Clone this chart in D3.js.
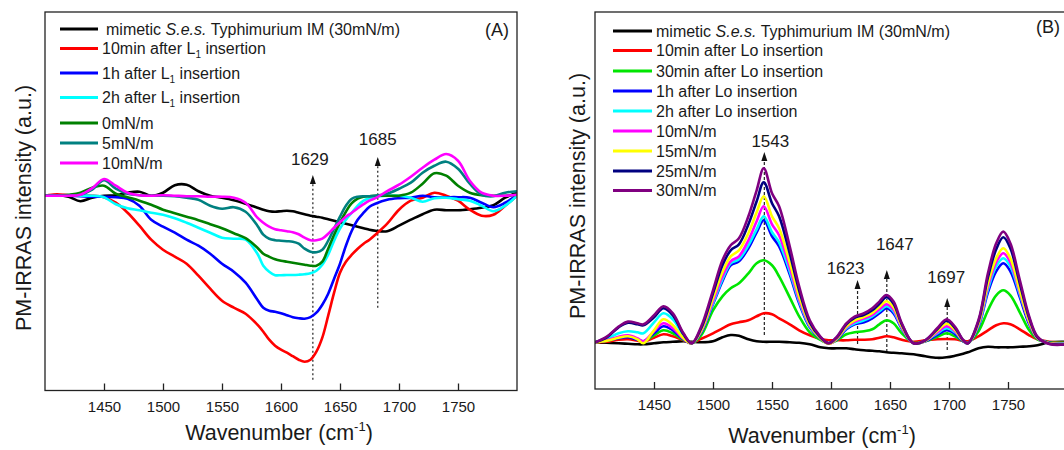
<!DOCTYPE html>
<html><head><meta charset="utf-8">
<script src="https://cdn.jsdelivr.net/npm/d3@7"></script>
<style>
body{margin:0;background:#fff}
text{font-family:"Liberation Sans",Arial,sans-serif;fill:#1a1a1a}
</style>
</head><body>
<svg id="c" width="1064" height="450"></svg>
<script>
// ---------- DATA: panel A ----------
const wnA = [1400,1410,1420,1430,1440,1450,1460,1470,1480,1490,1500,1510,1520,1530,1540,1550,1560,1570,1580,
  1585,1590,1595,1600,1605,1610,1615,1620,1625,1630,1635,1640,1645,1650,1655,1660,1665,1670,1675,1680,
  1690,1700,1710,1720,1730,1740,1750,1760,1770,1780,1790,1800];
const a_mimetic = [0,0.05,-0.1,-0.55,-0.2,0,0.05,0.3,0.4,0,0.3,1.05,1.1,0.45,0,-0.2,-0.45,-0.8,-1.2,
  -1.4,-1.55,-1.6,-1.55,-1.5,-1.55,-1.7,-1.85,-2.0,-2.1,-2.2,-2.35,-2.5,-2.65,-2.8,-2.95,-3.1,-3.25,-3.4,-3.5,
  -3.55,-3.0,-2.4,-1.85,-1.4,-1.45,-1.45,-1.35,-1.2,-0.95,-0.2,0.3];
const a_10min = [0,0.15,0.05,0,0,-0.15,-0.7,-1.7,-3.0,-4.4,-5.4,-6.1,-6.8,-8.0,-9.3,-10.5,-11.2,-11.8,-12.9,
  -13.6,-14.4,-15.0,-15.4,-15.7,-16.05,-16.4,-16.6,-16.4,-15.6,-14.2,-12.0,-9.7,-7.7,-6.6,-5.9,-5.3,-4.8,-4.4,-3.9,
  -2.8,-1.4,-0.5,-0.2,0.3,0,-0.5,-1.4,-2.0,-1.9,-1.0,0];
const a_1h = [0,0.05,0,-0.05,-0.1,-0.1,-0.15,-0.3,-1.0,-2.4,-3.1,-3.7,-4.4,-5.0,-5.8,-6.8,-7.6,-8.7,-10.4,
  -11.2,-11.5,-11.6,-11.75,-11.95,-12.15,-12.25,-12.3,-12.15,-11.7,-10.9,-9.8,-8.3,-6.8,-5.0,-3.5,-2.4,-1.7,-1.1,-0.8,
  -0.4,-0.25,-0.2,0,-0.15,-0.15,-0.15,-0.2,-0.7,-1.15,-0.7,0.1];
const a_2h = [0,0,0,0,0,-0.15,-0.85,-1.25,-1.45,-1.7,-1.9,-2.25,-2.7,-3.2,-3.7,-4.2,-4.3,-4.4,-5.8,
  -7.0,-7.6,-7.95,-7.95,-7.93,-7.93,-7.9,-7.85,-7.75,-7.5,-6.9,-5.9,-4.5,-3.3,-2.4,-1.7,-1.0,-0.5,-0.25,-0.1,
  0,0,-0.2,-0.6,-0.25,-0.2,-0.35,-0.5,-1.0,-1.55,-1.0,0];
const a_0mN = [0,0,0.1,0.3,0.8,1.0,0.2,-0.15,-0.5,-0.9,-1.4,-1.75,-2.1,-2.45,-2.85,-3.25,-3.75,-4.25,-5.2,
  -5.8,-6.1,-6.35,-6.5,-6.6,-6.7,-6.8,-6.9,-7.0,-7.0,-6.6,-5.3,-3.9,-2.7,-1.6,-0.75,-0.3,-0.1,-0.05,0,
  0,0,0.3,1.2,2.25,2.0,1.0,0.3,0.05,0,0,0.1];
const a_5mN = [0,0,0,0.1,0.6,1.55,0.7,0.2,0.05,0,0,-0.05,-0.2,-0.4,-1.0,-1.3,-1.15,-1.6,-3.0,
  -3.9,-4.3,-4.45,-4.5,-4.55,-4.6,-4.8,-5.3,-5.6,-5.65,-5.4,-4.5,-3.3,-2.1,-1.0,-0.3,-0.1,-0.05,-0.05,0,
  0.2,0.7,1.3,2.3,3.0,3.4,2.7,1.2,0.1,-0.05,0.3,0.45];
const a_10mN = [0,0,0,0.1,0.75,1.67,1.0,0.3,0.05,0,0.05,0,-0.05,-0.05,-0.1,-0.1,-0.2,-0.7,-2.2,
  -2.7,-3.1,-3.35,-3.45,-3.55,-3.65,-3.85,-4.2,-4.45,-4.45,-4.3,-3.8,-3.2,-2.65,-2.1,-1.7,-1.25,-0.85,-0.5,-0.25,
  0.45,1.1,1.9,2.8,3.6,4.17,3.5,1.5,0.3,0,0,0.1];

// ---------- DATA: panel B ----------
const wnB = [1400,1410,1420,1428,1436,1441,1450,1458,1466,1475,1482,1490,1500,1508,1515,1522,1530,1537,1543,1550,
  1556,1565,1573,1582,1591,1598,1605,1613,1620,1628,1635,1641,1647,1653,1660,1670,1680,1690,1698,1705,
  1712,1716,1725,1733,1740,1746,1752,1760,1768,1775,1785,1800];
const b_mimetic = [0,-0.05,-0.1,-0.15,-0.2,-0.2,-0.1,0,0.05,0.1,0.05,0,0.1,0.5,0.73,0.65,0.3,0.1,0.05,0.05,
  0.05,0,-0.05,-0.2,-0.5,-0.6,-0.6,-0.6,-0.7,-0.8,-0.85,-0.9,-1.0,-1.05,-1.1,-1.2,-1.4,-1.55,-1.5,-1.35,
  -1.15,-1.0,-0.6,-0.45,-0.5,-0.5,-0.5,-0.45,-0.4,-0.3,0,0.05];
const b_10min = [0,0.05,0.25,0.3,0.15,0.05,0.45,0.8,0.6,0.2,-0.05,0.35,0.9,1.4,1.8,2.0,2.2,2.6,2.9,2.8,
  2.4,1.8,1.2,0.7,0.35,0.2,0.2,0.2,0.25,0.25,0.3,0.45,0.6,0.5,0.25,0.05,0.2,0.3,0.33,0.3,
  0.15,0.1,0.6,1.2,1.7,1.9,1.8,1.3,0.7,0.3,0.05,-0.05];
const b_30min = [0,0.15,0.45,0.6,0.3,0.1,0.7,1.2,0.9,0.25,-0.1,0.7,3.2,4.6,5.4,5.9,6.9,7.9,8.2,7.7,
  6.6,4.5,2.6,1.0,0.25,-0.1,0.2,0.8,1.0,1.1,1.3,1.8,2.2,1.9,0.9,-0.05,0.1,0.55,0.9,0.6,
  0.1,-0.05,1.1,3.2,4.7,5.2,4.7,3.0,1.2,0.3,0,-0.05];
const b_1h = [0,0.15,0.4,0.5,0.25,0.1,0.9,1.6,1.2,0.3,-0.1,1.0,3.8,6.1,7.7,8.1,9.4,11.0,12.2,10.6,
  9.6,6.8,3.9,1.5,0.35,-0.1,0.3,1.3,1.8,2.0,2.4,2.9,3.4,2.9,1.35,-0.1,0.1,0.75,1.2,0.85,
  0.1,-0.1,1.6,5.0,7.1,7.9,7.1,4.5,1.8,0.4,-0.05,-0.1];
const b_2h = [0,0.35,0.9,1.1,1.0,0.9,2.0,2.9,2.3,0.7,-0.1,1.1,3.9,6.3,7.9,8.3,9.7,11.3,12.6,11.0,
  10.0,7.1,4.1,1.6,0.4,-0.1,0.35,1.4,1.9,2.2,2.6,3.1,3.6,3.1,1.45,-0.1,0.15,0.9,1.4,1.0,
  0.15,-0.1,1.7,5.3,7.6,8.4,7.6,4.8,2.0,0.45,-0.1,-0.1];
const b_10mN = [0,0.2,0.55,0.7,0.4,0.1,1.1,1.9,1.4,0.35,-0.1,1.1,4.1,6.6,8.1,8.6,10.2,12.1,13.6,11.8,
  10.7,7.5,4.3,1.7,0.4,-0.15,0.35,1.5,2.05,2.4,2.75,3.3,3.8,3.25,1.5,-0.1,0.15,1.0,1.6,1.1,
  0.15,-0.1,1.8,5.6,8.0,8.9,8.0,5.0,2.0,0.4,-0.1,-0.15];
const b_15mN = [0,0.15,0.45,0.6,0.3,-0.1,1.2,2.3,1.7,0.4,-0.1,1.2,4.4,7.0,8.6,9.2,10.9,13.0,14.6,12.6,
  11.4,8.0,4.6,1.8,0.4,-0.15,0.4,1.6,2.2,2.55,2.95,3.55,4.1,3.5,1.6,-0.1,0.15,1.15,1.85,1.25,
  0.15,-0.1,1.9,5.9,8.4,9.4,8.4,5.2,2.1,0.45,-0.1,-0.15];
const b_25mN = [0,0.5,1.5,1.95,1.8,1.7,2.5,3.4,2.7,0.8,-0.1,1.4,4.9,7.7,9.2,9.8,11.8,14.1,16.0,13.9,
  12.6,8.9,5.2,2.0,0.5,-0.1,0.5,1.8,2.45,2.75,3.2,3.85,4.5,3.85,1.8,-0.1,0.2,1.3,2.15,1.45,
  0.2,-0.1,2.1,6.5,9.3,10.5,9.4,5.9,2.4,0.5,-0.15,-0.2];
const b_30mN = [0,0.57,1.57,2.07,1.9,1.8,2.7,3.6,2.9,0.9,-0.1,1.57,5.2,8.2,9.7,10.4,12.6,15.2,17.4,14.9,
  13.6,9.6,5.6,2.2,0.57,-0.1,0.57,1.9,2.57,2.9,3.4,4.07,4.73,4.07,1.9,-0.1,0.23,1.4,2.3,1.57,
  0.23,-0.1,2.23,6.9,9.9,11.07,9.9,6.23,2.57,0.57,-0.17,-0.2];

const xTicks = [1450,1500,1550,1600,1650,1700,1750];

const labelsA = ["mimetic S.e.s. Typhimurium IM (30mN/m)","10min after L1 insertion","1h after L1 insertion",
  "2h after L1 insertion","0mN/m","5mN/m","10mN/m"];
const colorsA = ["#000000","#ff0000","#0000ff","#00ffff","#008000","#008080","#ff00ff"];
const valuesA = [a_mimetic,a_10min,a_1h,a_2h,a_0mN,a_5mN,a_10mN];

const labelsB = ["mimetic S.e.s. Typhimurium IM (30mN/m)","10min after Lo insertion","30min after Lo insertion",
  "1h after Lo insertion","2h after Lo insertion","10mN/m","15mN/m","25mN/m","30mN/m"];
const colorsB = ["#000000","#ff0000","#00e600","#0000ff","#00ffff","#ff00ff","#ffff00","#000080","#800080"];
const valuesB = [b_mimetic,b_10min,b_30min,b_1h,b_2h,b_10mN,b_15mN,b_25mN,b_30mN];

// annotations: position (cm-1), label, bottom/tip/label heights in a.u.
const annoA_pos = [1627,1682], annoA_text = ["1629","1685"];
const annoA_bottom = [-18.4,-11.2], annoA_tip = [2.07,3.87], annoA_lab = [3.07,5.07];
const annoB_pos = [1543.5,1622.5,1647.3,1698.5], annoB_text = ["1543","1623","1647","1697"];
const annoB_bottom = [0.73,-0.17,-0.97,-0.77], annoB_tip = [19.03,6.23,7.23,4.43], annoB_lab = [19.5,6.83,9.23,5.93];

// ---------- DRAW ----------
const svg = d3.select("#c");
const FONT = '"Liberation Sans", Arial, sans-serif';

function panel(cfg){
  const x = d3.scaleLinear().domain([1400,1800]).range([cfg.left,cfg.right]);
  const y = d3.scaleLinear().domain(cfg.yDomain).range([cfg.bottom,cfg.top]);
  const g = svg.append("g");
  svg.append("clipPath").attr("id","clip"+cfg.id).append("rect")
    .attr("x",cfg.left).attr("y",cfg.top).attr("width",cfg.right-cfg.left).attr("height",cfg.bottom-cfg.top);

  const an = g.append("g");
  cfg.anno.pos.forEach((p,i)=>{
    const xp = x(p);
    an.append("line").attr("x1",xp).attr("x2",xp)
      .attr("y1",y(cfg.anno.bottom[i])).attr("y2",y(cfg.anno.tip[i])+6)
      .attr("stroke","#222").attr("stroke-width",1.2).attr("stroke-dasharray",cfg.dash);
    const ty = y(cfg.anno.tip[i]);
    an.append("path").attr("d",`M${xp},${ty} L${xp-3},${ty+9} L${xp+3},${ty+9} Z`).attr("fill","#111");
    an.append("text").attr("x",xp+cfg.anno.dx[i]).attr("y",y(cfg.anno.lab[i]))
      .attr("text-anchor","middle").attr("font-size",17).text(cfg.anno.text[i]);
  });

  const line = d3.line().x((d,i)=>x(cfg.wn[i])).y(d=>y(d)).curve(d3.curveCatmullRom.alpha(0.5));
  g.append("g").attr("clip-path",`url(#clip${cfg.id})`)
    .selectAll("path").data(cfg.values).join("path")
    .attr("d",v=>line(v)).attr("fill","none")
    .attr("stroke",(v,i)=>cfg.colors[i]).attr("stroke-width",2.6)
    .attr("stroke-linejoin","round").attr("stroke-linecap","round");

  g.append("rect").attr("x",cfg.left).attr("y",cfg.top)
    .attr("width",cfg.right-cfg.left).attr("height",cfg.bottom-cfg.top)
    .attr("fill","none").attr("stroke","#222").attr("stroke-width",1.3);

  const ax = g.append("g").attr("transform",`translate(0,${cfg.bottom})`)
    .call(d3.axisBottom(x).tickValues(xTicks).tickSizeInner(-7).tickSizeOuter(0).tickPadding(cfg.tickPad).tickFormat(d3.format("d")));
  ax.select(".domain").remove();
  ax.selectAll(".tick line").attr("stroke","#222").attr("stroke-width",1.3);
  ax.selectAll(".tick text").attr("font-size",15).attr("font-family",FONT).attr("fill","#1a1a1a");

  const xt = g.append("text").attr("x",cfg.xTitleX).attr("y",cfg.xTitleY).attr("text-anchor","middle").attr("font-size",21.5);
  xt.append("tspan").text("Wavenumber (cm");
  xt.append("tspan").attr("font-size",13).attr("dy",-9).text("-1");
  xt.append("tspan").attr("dy",9).text(")");
  g.append("text").attr("transform",`translate(${cfg.yTitleX},${cfg.yTitleY}) rotate(-90)`)
    .attr("text-anchor","middle").attr("font-size",21.5).text("PM-IRRAS intensity (a.u.)");

  g.append("text").attr("x",cfg.letterX).attr("y",cfg.letterY).attr("text-anchor","middle")
    .attr("font-size",18).text(cfg.letter);

  const lg = g.append("g");
  cfg.labels.forEach((lab,i)=>{
    const yy = cfg.legendY[i];
    lg.append("line").attr("x1",cfg.legX1).attr("x2",cfg.legX2).attr("y1",yy).attr("y2",yy)
      .attr("stroke",cfg.colors[i]).attr("stroke-width",3);
    const t = lg.append("text").attr("x",cfg.legTX + (i===0?cfg.firstPad:0)).attr("y",yy).attr("dy","0.36em").attr("font-size",16);
    if(lab.startsWith("mimetic")){
      t.append("tspan").text("mimetic ");
      t.append("tspan").attr("font-style","italic").text("S.e.s.");
      t.append("tspan").text(" Typhimurium IM (30mN/m)");
    } else if(lab.includes("L1")){
      const parts = lab.split("L1");
      t.append("tspan").text(parts[0]+"L");
      t.append("tspan").attr("font-size",10).attr("dy",4).text("1");
      t.append("tspan").attr("dy",-4).text(parts[1]);
    } else t.text(lab);
  });
}

panel({id:"A", left:45, right:517, top:12, bottom:390.5, yDomain:[-19.48,18.37],
  wn:wnA, values:valuesA, colors:colorsA, labels:labelsA,
  legendY:[29,48.5,73,97.5,123,143,163], legX1:60, legX2:98, legTX:102, firstPad:4,
  tickPad:11, xTitleX:279, xTitleY:440, yTitleX:31, yTitleY:208,
  letter:"(A)", letterX:497, letterY:35.5, dash:"2,2.5",
  anno:{pos:annoA_pos,text:annoA_text,bottom:annoA_bottom,tip:annoA_tip,lab:annoA_lab,dx:[-3,0]}});

panel({id:"B", left:595, right:1067, top:12, bottom:389, yDomain:[-4.67,33.03],
  wn:wnB, values:valuesB, colors:colorsB, labels:labelsB,
  legendY:[31,50.5,71,91,111,131,151,171,190.5], legX1:613, legX2:652, legTX:656, firstPad:0,
  tickPad:10.5, xTitleX:822, xTitleY:443, yTitleX:585, yTitleY:196,
  letter:"(B)", letterX:1048, letterY:33, dash:"3,2",
  anno:{pos:annoB_pos,text:annoB_text,bottom:annoB_bottom,tip:annoB_tip,lab:annoB_lab,dx:[6,-12,8,-1]}});
</script>
</body></html>
